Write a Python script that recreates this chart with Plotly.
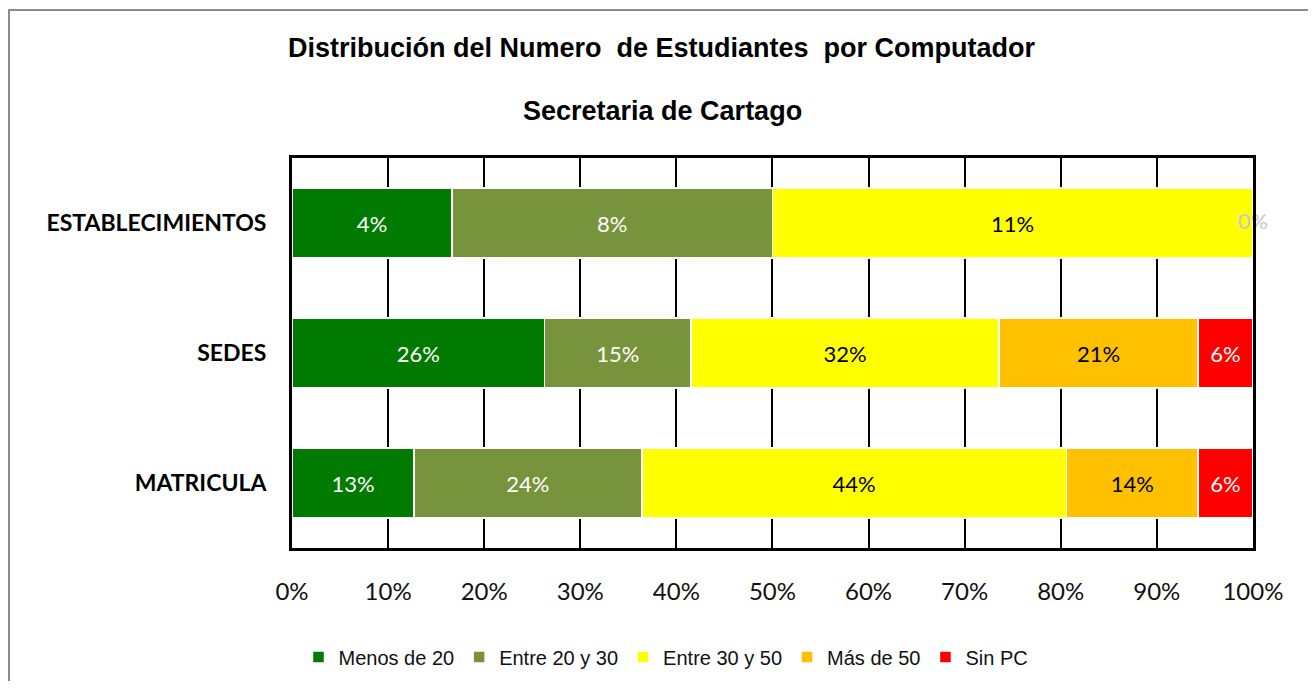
import plotly.graph_objects as go

categories = ["ESTABLECIMIENTOS", "SEDES", "MATRICULA"]
series_names = ["Menos de 20", "Entre 20 y 30", "Entre 30 y 50", "Más de 50", "Sin PC"]

establecimientos = [0.038, 0.076, 0.114, 0.0, 0.0]
sedes = [0.263, 0.152, 0.321, 0.207, 0.057]
matricula = [0.127, 0.237, 0.442, 0.137, 0.057]

x_tick_vals = [0, 10, 20, 30, 40, 50, 60, 70, 80, 90, 100]
x_tick_text = ["0%", "10%", "20%", "30%", "40%", "50%", "60%", "70%", "80%", "90%", "100%"]

colors = ["#007A00", "#77933C", "#FFFF00", "#FFC000", "#FF0000"]
label_colors = ["white", "white", "black", "black", "white"]

rows = [establecimientos, sedes, matricula]

# page offset (body margin)
OFF = 7
W, H = 1316 - 2 * 8, 689 - 2 * 8
L, R, T, B = 291, 1252, 157, 547   # plot area in page pixels
pw, ph = R - L, B - T

def px(x):
    return (x - L) / pw

def py(y):
    return (B - y) / ph

font_body = "Lato, 'Open Sans', sans-serif"
font_arial = "'Liberation Sans', Arial, sans-serif"

fig = go.Figure()
for i, name in enumerate(series_names):
    vals = [row[i] for row in rows]
    fig.add_trace(go.Bar(
        y=categories, x=vals, name=name, orientation="h",
        marker=dict(color=colors[i], line=dict(color="white", width=1.5)),
        text=[f"{v:.0%}" if v > 0 else "" for v in vals],
        textposition="inside", insidetextanchor="middle", textangle=0,
        textfont=dict(family=font_body, size=22, color=label_colors[i]),
        constraintext="none", cliponaxis=False,
        hoverinfo="skip",
    ))

# zero-valued label drawn at the end of the stack
zx, zy, zt = [], [], []
for cat, row in zip(categories, rows):
    total = sum(row)
    cum = 0.0
    for i, v in enumerate(row):
        cum += v
        if v == 0 and i == len(row) - 1:
            zx.append(cum / total * 100)
            zy.append(cat)
            zt.append(f"{v:.0%}")
fig.add_trace(go.Scatter(
    x=zx, y=zy, text=zt, mode="text", showlegend=False,
    textfont=dict(family=font_body, size=22, color="#C8C8C8"),
    hoverinfo="skip", cliponaxis=False,
))

fig.update_layout(
    width=W, height=H,
    barmode="stack", barnorm="percent", bargap=0.46,
    plot_bgcolor="white", paper_bgcolor="white",
    margin=dict(l=L - OFF, r=W - (R - OFF), t=T - OFF, b=H - (B - OFF), autoexpand=False),
    showlegend=True,
    legend=dict(
        orientation="h", x=px(665), y=py(656), xanchor="center", yanchor="middle",
        font=dict(family=font_arial, size=20, color="#111"),
        traceorder="normal", itemwidth=30, bgcolor="rgba(0,0,0,0)",
    ),
    xaxis=dict(
        range=[0, 100.01], tickvals=x_tick_vals, ticktext=x_tick_text,
        showgrid=True, gridcolor="black", gridwidth=2,
        showline=True, linecolor="black", linewidth=3, mirror=True,
        ticks="outside", ticklen=20, tickcolor="rgba(0,0,0,0)",
        tickfont=dict(family=font_body, size=24, color="#111"),
        zeroline=False, fixedrange=True,
    ),
    yaxis=dict(
        categoryorder="array", categoryarray=categories, autorange="reversed",
        showline=True, linecolor="black", linewidth=3, mirror=True,
        ticks="outside", ticklen=18, tickcolor="rgba(0,0,0,0)",
        tickfont=dict(family=font_body, size=23, color="black", weight="bold"),
        showgrid=False, fixedrange=True,
    ),
    annotations=[
        dict(text="<b>Distribución del Numero&nbsp; de Estudiantes&nbsp; por Computador</b>",
             xref="paper", yref="paper", x=px(661), y=py(47), showarrow=False,
             xanchor="center", yanchor="middle",
             font=dict(family=font_arial, size=27, color="black")),
        dict(text="<b>Secretaria de Cartago</b>",
             xref="paper", yref="paper", x=px(661), y=py(110), showarrow=False,
             xanchor="center", yanchor="middle",
             font=dict(family=font_arial, size=27, color="black")),
    ],
    shapes=[
        dict(type="rect", xref="paper", yref="paper",
             x0=px(8), x1=px(1313), y0=py(700), y1=py(9),
             line=dict(color="#8C8C8C", width=2), fillcolor="rgba(0,0,0,0)", layer="below"),
    ],
)

fig.write_html("out.html")
